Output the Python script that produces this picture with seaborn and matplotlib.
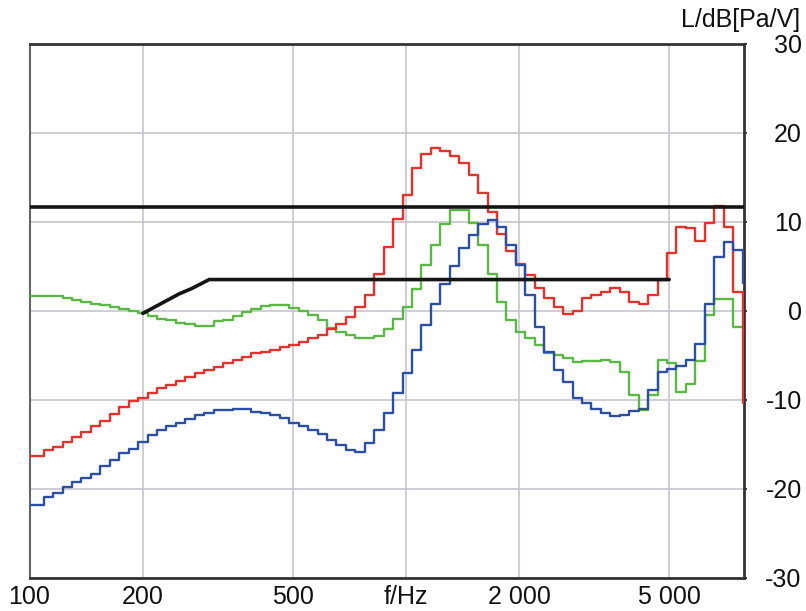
import numpy as np
import pandas as pd
import matplotlib
matplotlib.use("Agg")
import matplotlib.pyplot as plt
import seaborn as sns
from matplotlib.ticker import FixedLocator, FixedFormatter, NullLocator

# 1/12-octave band centres starting at 100 Hz (x categories)
BAND_INDEX = list(range(76))
FREQ = [100 * 2 ** (k / 12) for k in BAND_INDEX]

RED = [-16.3, -16.3, -15.7, -15.35, -14.7, -14.15, -13.6, -13.0, -12.35, -11.6,
       -10.85, -10.2, -9.85, -9.3, -8.7, -8.35, -7.9, -7.5, -7.0, -6.7,
       -6.3, -5.9, -5.55, -5.2, -4.8, -4.6, -4.4, -4.1, -3.85, -3.5,
       -3.1, -2.7, -2.1, -1.5, -0.7, 0.4, 1.76, 4.1, 7.2, 10.3,
       13.0, 16.0, 17.6, 18.25, 17.9, 17.4, 16.6, 15.25, 13.2, 11.1,
       8.6, 6.7, 5.3, 4.0, 2.5, 1.4, 0.45, -0.37, 0.0, 1.4,
       1.76, 2.1, 2.5, 2.1, 1.0, 0.8, 1.76, 3.5, 6.45, 9.4,
       9.25, 7.8, 9.8, 11.8, 9.4, 2.1]
RED_END = -10.4

GREEN = [1.7, 1.7, 1.7, 1.6, 1.4, 1.2, 1.0, 0.8, 0.6, 0.4,
         0.2, 0.0, -0.3, -0.6, -0.9, -1.1, -1.35, -1.5, -1.7, -1.7,
         -1.2, -1.0, -0.6, -0.2, 0.15, 0.5, 0.65, 0.6, 0.35, 0.0,
         -0.5, -1.05, -1.9, -2.4, -2.7, -3.1, -3.1, -2.8, -2.1, -0.9,
         0.45, 2.4, 5.1, 7.4, 9.7, 11.3, 11.3, 9.8, 7.4, 4.1,
         1.0, -1.1, -2.4, -3.1, -3.9, -4.8, -5.0, -5.35, -5.8, -5.7,
         -5.7, -5.5, -5.8, -6.9, -9.5, -11.2, -9.5, -5.5, -5.9, -9.1,
         -8.2, -5.7, -0.5, 1.3, 1.3, -1.8]

BLUE = [-21.8, -21.8, -20.9, -20.5, -19.8, -19.3, -18.8, -18.3, -17.5, -16.8,
        -16.0, -15.5, -14.7, -14.0, -13.4, -13.0, -12.6, -12.2, -11.7, -11.45,
        -11.2, -11.15, -11.0, -11.1, -11.35, -11.5, -11.7, -12.1, -12.6, -12.95,
        -13.4, -13.9, -14.5, -15.1, -15.6, -15.85, -14.9, -13.4, -11.5, -9.3,
        -7.0, -4.4, -1.6, 0.8, 3.0, 5.0, 7.0, 8.5, 9.7, 10.2,
        9.4, 7.4, 5.1, 1.76, -1.8, -4.6, -6.7, -8.0, -9.85, -10.4,
        -11.1, -11.5, -11.8, -11.7, -11.3, -11.1, -8.9, -6.85, -6.5, -6.2,
        -5.5, -3.7, 0.75, 6.0, 7.7, 6.8]
BLUE_END = 3.1

BLACK_UPPER_F = [100, 7900]
BLACK_UPPER_L = [11.6, 11.6]
BLACK_LOWER_F = [200, 250, 270, 300, 5000]
BLACK_LOWER_L = [-0.3, 1.9, 2.5, 3.5, 3.5]

X_TICKS = [100, 200, 500, 1000, 2000, 5000]
X_LABELS = ["100", "200", "500", "f/Hz", "2 000", "5 000"]
Y_TICKS = [-30, -20, -10, 0, 10, 20, 30]
Y_LABELS = ["-30", "-20", "-10", "0", "10", "20", "30"]
Y_TITLE = "L/dB[Pa/V]"

C_RED = "#e5322d"
C_GREEN = "#5bb846"
C_BLUE = "#2c4ea3"
C_BLACK = "#151515"

sns.set_style("white")
plt.rcParams["font.family"] = ["Liberation Sans", "DejaVu Sans"]

W, H = 806, 611
fig = plt.figure(figsize=(W / 100, H / 100), dpi=100)
x0, x1 = 29.5, 744.0
y_top, y_bot = 43.7, 577.7
ax = fig.add_axes([x0 / W, 1 - y_bot / H, (x1 - x0) / W, (y_bot - y_top) / H])


def step_frame(freqs, vals, end=None):
    lo = [f * 2 ** (-1 / 24) for f in freqs]
    hi = freqs[-1] * 2 ** (1 / 24)
    x = lo + [hi]
    y = list(vals) + [vals[-1]]
    if end is not None:
        x.append(hi)
        y.append(end)
    return pd.DataFrame({"f": x, "L": y})


for vals, col, end in [(GREEN, C_GREEN, None), (RED, C_RED, RED_END), (BLUE, C_BLUE, BLUE_END)]:
    df = step_frame(FREQ, vals, end)
    sns.lineplot(data=df, x="f", y="L", drawstyle="steps-post", sort=False,
                 estimator=None, color=col, lw=1.7, ax=ax, zorder=3)

sns.lineplot(x=BLACK_UPPER_F, y=BLACK_UPPER_L, sort=False, estimator=None,
             color=C_BLACK, lw=2.6, ax=ax, zorder=4)
sns.lineplot(x=BLACK_LOWER_F, y=BLACK_LOWER_L, sort=False, estimator=None,
             color=C_BLACK, lw=2.6, ax=ax, zorder=4)

ax.set_xscale("log")
ax.set_xlim(100, 100 * 10 ** ((x1 - x0) / 376.5))
ax.set_ylim(-30, 30)
ax.xaxis.set_major_locator(FixedLocator(X_TICKS))
ax.xaxis.set_major_formatter(FixedFormatter(X_LABELS))
ax.xaxis.set_minor_locator(NullLocator())
ax.yaxis.set_major_locator(FixedLocator(Y_TICKS))
ax.yaxis.set_major_formatter(FixedFormatter(Y_LABELS))
ax.yaxis.tick_right()
ax.set_xlabel("")
ax.set_ylabel("")

ax.grid(True, which="major", color="#c6c6d0", lw=1.2, zorder=0)
ax.set_axisbelow(True)

for side in ["top", "right", "bottom"]:
    ax.spines[side].set_visible(True)
    ax.spines[side].set_color("#333333")
    ax.spines[side].set_linewidth(2.0)
ax.spines["left"].set_visible(True)
ax.spines["left"].set_color("#666666")
ax.spines["left"].set_linewidth(1.5)

ax.tick_params(axis="x", which="major", direction="out", length=2, width=1.2,
               color="#444444", pad=3, labelsize=18, labelcolor="#111111")
ax.tick_params(axis="y", which="major", direction="out", length=2, width=1.5,
               color="#444444", pad=39.5, labelsize=18, labelcolor="#111111",
               left=False, right=True, labelleft=False, labelright=True)
for lbl in ax.get_yticklabels():
    lbl.set_horizontalalignment("right")

fig.text(800 / W, 1 - 20 / H, Y_TITLE, ha="right", va="center", fontsize=18, color="#111111")

fig.savefig("out.png", dpi=100)
